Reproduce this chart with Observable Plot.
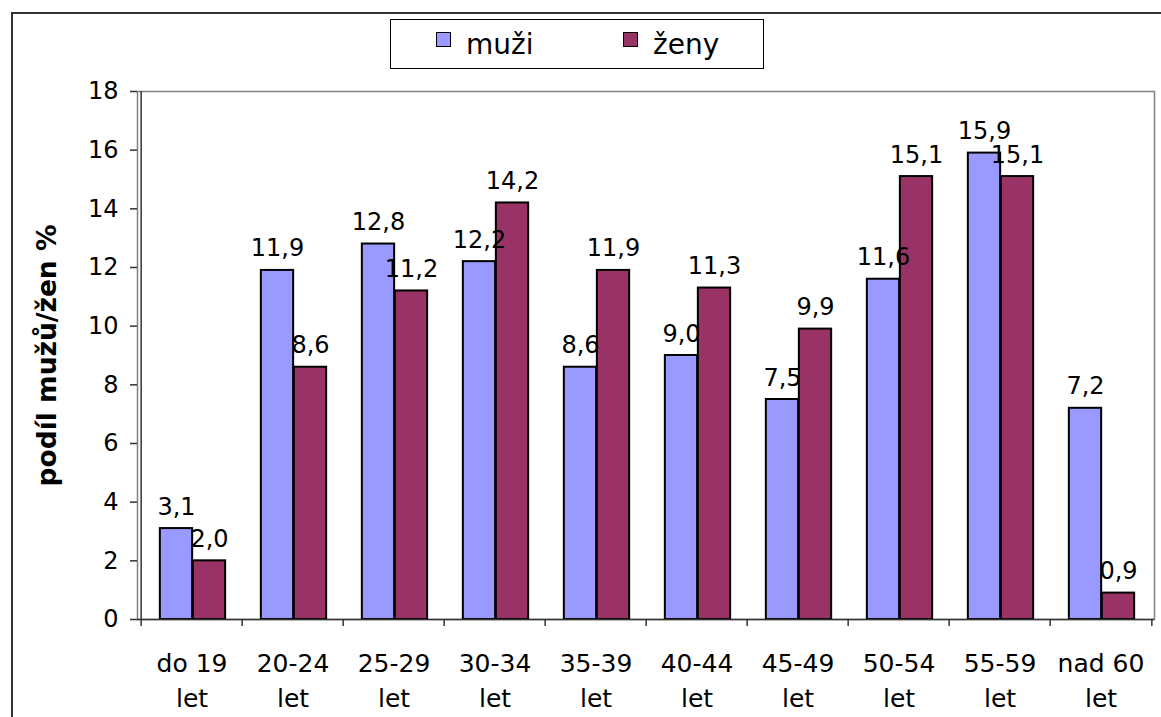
<!DOCTYPE html>
<html><head><meta charset="utf-8">
<script src="https://cdn.jsdelivr.net/npm/d3@7"></script>
<script src="https://cdn.jsdelivr.net/npm/@observablehq/plot@0.6"></script>
<style>
body{margin:0;background:#fff;overflow:hidden;font-family:Verdana,"DejaVu Sans",sans-serif;}
#wrap{position:relative;width:1161px;height:717px;overflow:hidden;}
#frame{position:absolute;left:11px;top:12px;width:1200px;height:800px;border-left:2px solid #333;border-top:2px solid #333;}
#chart{position:absolute;left:0;top:0;}
#legend{position:absolute;left:390px;top:19px;width:372px;height:48px;border:1px solid #000;background:#fff;}
.sw{position:absolute;top:12px;width:13px;height:13px;border:1.5px solid #000;}
.lt{position:absolute;top:11px;font-size:28px;line-height:1;color:#000;white-space:nowrap;}
</style></head>
<body>
<div id="wrap">
  <div id="frame"></div>
  <div id="chart"></div>
  <div id="legend"></div>
</div>
<script>
const categories = ["do 19 let","20-24 let","25-29 let","30-34 let","35-39 let","40-44 let","45-49 let","50-54 let","55-59 let","nad 60 let"];
const xLabels = ["do 19\nlet","20-24\nlet","25-29\nlet","30-34\nlet","35-39\nlet","40-44\nlet","45-49\nlet","50-54\nlet","55-59\nlet","nad 60\nlet"];
const muzi = [3.1, 11.9, 12.8, 12.2, 8.6, 9.0, 7.5, 11.6, 15.9, 7.2];
const zeny = [2.0, 8.6, 11.2, 14.2, 11.9, 11.3, 9.9, 15.1, 15.1, 0.9];
const seriesNames = ["muži", "ženy"];
const seriesColors = ["#9999FF", "#993366"];
const yTicks = [0, 2, 4, 6, 8, 10, 12, 14, 16, 18];
const yTitle = "podíl mužů/žen %";

const W = 1161, H = 717, mL = 137, mR = 7, mT = 91, mB = 98;
const step = (W - mL - mR) / categories.length;
const barW = 33;
const off = (step - 2 * barW) / 2 + 1;
const pxPerUnit = (H - mT - mB) / 18;
const rows = categories.map((c, i) => ({c, muzi: muzi[i], zeny: zeny[i]}));
const fmt = v => d3.format(".1f")(v).replace(".", ",");
const FONT = "Verdana, 'DejaVu Sans', sans-serif";

const chart = Plot.plot({
  width: W, height: H,
  marginLeft: mL, marginRight: mR, marginTop: mT, marginBottom: mB,
  style: {fontFamily: FONT, fontSize: "24px", color: "#000", background: "transparent", overflow: "visible"},
  x: {domain: categories, padding: 0, axis: null},
  y: {domain: [0, 18], axis: null},
  marks: [
    Plot.frame({stroke: "#808080", strokeWidth: 1.5}),
    Plot.barY(rows, {x: "c", y: "muzi", fill: seriesColors[0], stroke: "#000", strokeWidth: 2,
      insetLeft: off, insetRight: step - off - barW}),
    Plot.barY(rows, {x: "c", y: "zeny", fill: seriesColors[1], stroke: "#000", strokeWidth: 2,
      insetLeft: off + barW, insetRight: step - off - 2 * barW}),
    Plot.ruleY([0], {stroke: "#333", strokeWidth: 1.5}),
    Plot.ruleX([categories[0]], {dx: -step / 2, stroke: "#333", strokeWidth: 1.5}),
    Plot.ruleX(categories, {x: d => d, dx: -step / 2, y1: 0, y2: -7 / pxPerUnit, stroke: "#333", strokeWidth: 1.5}),
    Plot.ruleX([categories[categories.length - 1]], {dx: step / 2, y1: 0, y2: -7 / pxPerUnit, stroke: "#333", strokeWidth: 1.5}),
    Plot.axisY({ticks: yTicks, tickSize: 7, tickPadding: 12, fontSize: 24, stroke: "#333", strokeWidth: 1.5, tickFormat: d => String(d)}),
    Plot.text(rows, {x: "c", y: "muzi", text: d => fmt(d.muzi), dx: off + barW / 2 - step / 2,
      dy: -14, lineAnchor: "bottom", fontSize: 24, fill: "#000"}),
    Plot.text(rows, {x: "c", y: "zeny", text: d => fmt(d.zeny), dx: off + 1.5 * barW - step / 2,
      dy: -14, lineAnchor: "bottom", fontSize: 24, fill: "#000"}),
    Plot.text(xLabels, {x: (d, i) => categories[i], text: d => d, frameAnchor: "bottom",
      lineAnchor: "top", dy: 28, lineHeight: 1.4, fontSize: 25, fill: "#000"}),
    Plot.text([yTitle], {text: d => d, frameAnchor: "left", dx: -90, rotate: -90,
      textAnchor: "middle", lineAnchor: "middle",
      fontWeight: "bold", fontSize: 26.5, fill: "#000"})
  ]
});
document.getElementById("chart").appendChild(chart);

const legend = document.getElementById("legend");
const swLeft = [45, 232], txtLeft = [75, 262];
seriesNames.forEach((name, i) => {
  const sw = document.createElement("div");
  sw.className = "sw";
  sw.style.left = swLeft[i] + "px";
  sw.style.background = seriesColors[i];
  legend.appendChild(sw);
  const t = document.createElement("div");
  t.className = "lt";
  t.style.left = txtLeft[i] + "px";
  t.textContent = name;
  legend.appendChild(t);
});
</script>
</body></html>
